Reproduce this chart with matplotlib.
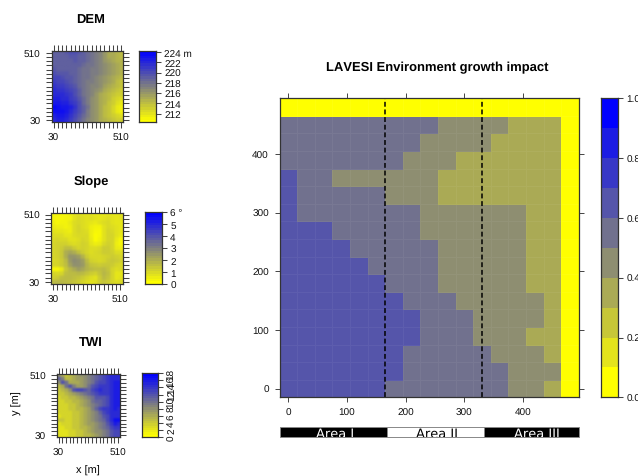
import numpy as np
import matplotlib
matplotlib.use("Agg")
import matplotlib.pyplot as plt
from matplotlib.colors import LinearSegmentedColormap

plt.rcParams['font.family'] = ['Liberation Sans', 'DejaVu Sans']
plt.rcParams['text.hinting'] = 'none'
plt.rcParams['text.hinting_factor'] = 1
W, H = 638, 477

main_classes = [
 [0]*17,
 [5,5,5,5,5,5,5,5,5,4,4,4,4,3,3,3,0],
 [5,5,5,5,5,5,5,5,4,4,4,4,3,3,3,3,0],
 [5,5,5,5,5,5,5,4,4,4,3,3,3,3,3,3,0],
 [6,5,5,4,4,4,4,4,4,3,3,3,3,3,3,3,0],
 [6,5,5,5,5,5,4,4,4,3,3,3,3,3,3,3,0],
 [6,5,5,5,5,5,5,5,4,4,4,4,4,4,3,3,0],
 [6,6,6,5,5,5,5,5,4,4,4,4,4,4,3,3,0],
 [6,6,6,6,5,5,5,5,5,4,4,4,4,4,3,3,0],
 [6,6,6,6,6,5,5,5,5,4,4,4,4,4,3,3,0],
 [6,6,6,6,6,6,5,5,5,4,4,4,4,4,3,3,0],
 [6,6,6,6,6,6,6,5,5,5,4,4,4,4,4,3,0],
 [6,6,6,6,6,6,6,6,5,5,5,4,4,4,4,3,0],
 [6,6,6,6,6,6,6,6,5,5,5,4,4,4,3,3,0],
 [6,6,6,6,6,6,6,5,5,5,5,5,4,4,4,3,0],
 [6,6,6,6,6,6,6,5,5,5,5,5,5,4,4,4,0],
 [6,6,6,6,6,6,5,5,5,5,5,5,5,4,4,3,0],
]

dem = [
 [219,219,219,219.5,220,220,219.5,219,218.5,218,217.5,217,216,215,215,214.5,214],
 [219,219,219,219,219.5,219.5,219,219,218.5,218,217.5,217,216,215,215,214.5,214],
 [219,219,219,219,219,219.5,219,219,218.5,218,217.5,217,216,215.5,215,214.5,214.5],
 [219,219,219,219,219,219,219,218.5,218,218,217.5,217,216.5,216,215.5,215,214.5],
 [219.5,219,219,219,219,219,218.5,218,218,217.5,217.5,217,216.5,216,215.5,215,214.5],
 [220,219.5,219.5,219.5,219,219,218.5,218,218,217.5,217.5,217,216.5,216,215.5,215,214.5],
 [220.5,220.5,220,219.5,219.5,219,218.5,218,218,217.5,217,216.5,216,215.5,215,214.5,214],
 [221,220.5,220.5,220,219.5,219,218.5,218,217.5,217.5,217,216.5,216,215.5,215,214,213.5],
 [221.5,221,221,220.5,220,219.5,218.5,218,217.5,217,217,216.5,215.5,215,214.5,214,213.5],
 [222,221.5,221.5,221,220.5,220,219,218,217.5,217,216.5,216,215,214.5,214,213.5,213],
 [222,222,222,221.5,221,220,219,218,217.5,217,216,215,214.5,214,213.5,213,213],
 [222.5,222.5,222,222,221,220.5,219.5,218.5,217.5,216.5,216,215,214.5,214,213,212.5,212],
 [223,223,222.5,222.5,221.5,221,220,218.5,217.5,216.5,216,215,214.5,213.5,213,212,211.5],
 [224,223.5,223,223,222.5,221.5,220,219,218,216.5,216,215,214,213.5,212.5,211.5,211],
 [223.5,223.5,223.5,223,222,221,220,219,217.5,216.5,216,215,214,213.5,212.5,211.5,211],
 [222.5,223,223,222.5,221.5,220.5,219.5,218.5,217.5,216.5,216,215,214,213.5,213,212.5,212],
 [222,222.5,222.5,222,221,220,219,218,217,216.5,216,215,214.5,214,213.5,213,213],
]

slope = [
 [.3,.3,.2,.2,.4,.7,.8,.7,.7,.7,.6,.6,.6,.7,.6,.6,.7],
 [.3,.2,.2,.3,.3,.7,.9,.8,.7,.8,.7,.6,.7,.8,.7,.6,.7],
 [.4,.2,.3,.3,.5,.8,.9,.8,.7,.6,.5,.7,.8,.9,.7,.6,.6],
 [.5,.4,.4,.3,.4,.8,1.,.8,.7,.4,.3,.3,.7,.9,.8,.7,.6],
 [.7,.6,.6,.5,.4,.8,1.,.9,.8,.4,.2,.2,.7,1.,.9,.7,.6],
 [.8,.8,.8,.6,.6,.8,.9,.9,.9,.4,.1,.2,.7,1.,1.,.7,.5],
 [.9,1.,.9,.9,.7,.7,.8,1.,.9,.5,.1,.3,.7,1.,1.,.5,.2],
 [1.,1.1,1.1,1.1,.9,.8,.9,1.1,1.,.6,.4,.5,.9,1.1,1.,.4,.2],
 [1.,1.1,1.2,1.5,1.5,1.2,1.,1.1,1.,.8,.8,.9,1.2,1.2,1.,.5,.4],
 [1.,1.1,1.3,1.9,2.1,1.9,1.5,1.2,1.,.8,.9,1.,1.2,1.2,1.1,.8,.8],
 [1.,1.1,1.3,1.9,2.5,2.5,2.3,1.8,1.2,.9,.9,.9,1.,1.1,1.2,1.1,1.],
 [.9,1.,1.2,1.6,2.4,2.7,2.6,2.3,1.6,1.1,1.,.9,1.,1.2,1.3,1.2,1.1],
 [1.,1.,1.2,1.5,2.2,2.6,2.6,2.4,1.8,1.4,1.3,1.2,1.3,1.3,1.2,1.,.9],
 [.2,.2,.5,1.3,1.7,2.,2.3,2.1,1.8,1.6,1.5,1.5,1.6,1.4,1.,.8,.9],
 [1.,.9,1.,1.5,1.6,1.6,1.7,1.6,1.4,1.2,1.1,1.4,1.7,1.5,1.,.6,.6],
 [1.1,1.2,1.5,1.6,1.6,1.5,1.4,1.2,1.,.8,.7,1.2,1.6,1.4,1.,.6,.7],
 [1.6,1.7,1.7,1.6,1.5,1.4,1.2,1.,.8,.7,.8,1.2,1.4,1.2,1.,.8,.9],
]

twi = [
 [8,6,4,5,6,7,8,8,9,10,11,12,13,14,15,15,15],
 [11,9,5,5,6,7,7,8,9,10,11,12,13,14,15,15,15],
 [8,12,10,6,6,6,7,8,9,10,12,13,13,14,15,16,16],
 [5,6,10,12,9,7,7,8,10,12,13,14,14,14,15,16,16],
 [4,5,6,8,12,13,13,12,11,13,14,15,14,14,15,16,16],
 [4,4,5,6,7,8,9,10,11,12,13,14,14,14,15,16,16],
 [3,4,4,5,5,6,7,8,9,10,12,12,12,13,15,16,16],
 [3,3,4,4,5,5,6,7,8,10,11,11,12,13,15,16,16],
 [3,3,3,4,4,5,6,7,8,9,10,11,12,13,15,16,16],
 [3,3,3,4,4,5,5,6,7,9,11,13,14,14,15,16,15],
 [3,3,3,3,4,4,5,6,7,8,9,11,13,14,15,15,15],
 [2,3,3,3,4,4,5,6,7,8,9,10,12,13,15,15,15],
 [4,4,3,3,4,4,5,6,7,8,9,10,11,13,15,17,17],
 [2,3,3,3,4,4,5,6,7,7,8,9,10,12,14,16,15],
 [2,2,3,3,4,4,5,5,6,7,8,9,10,11,13,14,14],
 [2,2,2,3,3,4,4,5,6,7,8,8,9,10,12,13,13],
 [2,2,2,3,3,4,4,5,5,6,7,8,9,10,12,13,13],
]

main_ticks = [0, 100, 200, 300, 400]
cbar_main_ticks = [0.0, 0.2, 0.4, 0.6, 0.8, 1.0]
dem_ticks = [212, 214, 216, 218, 220, 222, 224]
slope_ticks = [0, 1, 2, 3, 4, 5, 6]
twi_ticks = [0, 2, 4, 6, 8, 10, 12, 14, 16, 18]
area_names = ['Area I', 'Area II', 'Area III']
area_edges = [-15, 168, 333, 495]
area_centers = [80, 254, 424]
area_lines = [165, 330]

cmap = LinearSegmentedColormap.from_list('yb', ['#ffff00', '#0000ff'])
FRAME = '#333333'
TICK = '#444444'
FS = 7

fig = plt.figure(figsize=(W / 100, H / 100), dpi=100)

def box(x0, y0, x1, y1):
    return fig.add_axes([x0 / W, 1 - y1 / H, (x1 - x0) / W, (y1 - y0) / H])

def frame(ax, c=FRAME, lw=0.9):
    for s in ax.spines.values():
        s.set_color(c)
        s.set_linewidth(lw)

def small(bbox, vals, vmin, vmax, title, tx, ty):
    ax = box(*bbox)
    c = np.arange(30, 511, 30)
    ax.imshow(np.array(vals), cmap=cmap, vmin=vmin, vmax=vmax, origin='upper',
              extent=(15, 525, 15, 525), aspect='auto', interpolation='hanning',
              interpolation_stage='rgba')
    ax.set_xlim(15, 525)
    ax.set_ylim(15, 525)
    ax.set_xticks(c, ['30'] + [''] * 15 + ['510'])
    ax.set_yticks(c, ['30'] + [''] * 15 + ['510'])
    ax.tick_params(top=True, right=True, length=4.3, width=0.75, color=TICK,
                   labelsize=FS, pad=3.5, labelcolor='#111111')
    frame(ax)
    fig.text(tx / W, 1 - ty / H, title, ha='center', va='center',
             fontsize=9.4, fontweight='bold')
    return ax

def colorbar(bbox, vmin, vmax, levels, ticks, labels=None, rotate=False):
    ax = box(*bbox)
    edges = np.linspace(vmin, vmax, levels + 1)
    ax.pcolormesh([0, 1], edges, np.arange(levels)[:, None], cmap=cmap,
                  vmin=0, vmax=levels - 1)
    ax.set_xticks([])
    ax.yaxis.tick_right()
    ax.set_ylim(vmin, vmax)
    ax.set_yticks(ticks, labels if labels else [str(t) for t in ticks])
    ax.tick_params(axis='y', length=3.6, width=0.75, color=TICK, labelsize=FS,
                   pad=2.5, labelcolor='#111111')
    if rotate:
        for t in ax.get_yticklabels():
            t.set_rotation(90)
            t.set_va('center')
    frame(ax)
    return ax

# Small panels
small((51.5, 51.7, 123.3, 123.3), dem, 210.3, 224.3, 'DEM', 91, 20)
small((51, 213.5, 122.5, 285), slope, 0, 6, 'Slope', 91, 182)
small((56.7, 374.5, 120, 437.7), twi, 0, 18, 'TWI', 91, 343)
colorbar((139.3, 51.7, 156, 123.3), 210.3, 224.3, 28, dem_ticks,
         [str(t) for t in dem_ticks[:-1]] + ['224 m'])
colorbar((145, 213.3, 161.7, 285), 0, 6, 28, slope_ticks,
         [str(t) for t in slope_ticks[:-1]] + ['6 °'])
colorbar((142.3, 374.3, 158.3, 438), 0, 18, 28, twi_ticks, rotate=True)
fig.text(17 / W, 1 - 403 / H, 'y [m]', rotation=90, ha='center', va='center', fontsize=8)
fig.text(88 / W, 1 - 471 / H, 'x [m]', ha='center', va='center', fontsize=8)

# Main panel
ax = box(279.5, 99.3, 578.7, 398.3)
cx = np.arange(0, 481, 30)
grid = np.array(main_classes)[::-1] / 9
ax.pcolormesh(cx, cx, grid, cmap=cmap, vmin=0, vmax=1, shading='nearest',
              edgecolors=(1, 1, 1, 0.05), linewidth=0.4)
for v in area_lines:
    ax.axvline(v, color='black', lw=1.1, ls=(0, (3.2, 1.8)))
ax.set_xlim(-15, 495)
ax.set_ylim(-15, 495)
ax.set_xticks(main_ticks)
ax.set_yticks(main_ticks)
ax.tick_params(top=True, right=True, length=3.6, width=0.7, color=TICK,
               labelsize=FS, pad=4, labelcolor='#111111')
frame(ax)
fig.text(437 / W, 1 - 67.5 / H, 'LAVESI Environment growth impact', ha='center',
         va='center', fontsize=9.5, fontweight='bold')

colorbar((601, 99.3, 617.7, 398.3), 0, 1, 10, cbar_main_ticks,
         [f'{t:.1f}' for t in cbar_main_ticks])

# Area strip
bar = box(279.5, 427.7, 578.7, 438.3)
bar.set_xlim(-15, 495)
bar.set_ylim(0, 1)
bar.axis('off')
for i, name in enumerate(area_names):
    fc, tc = ('white', 'black') if i == 1 else ('black', 'white')
    bar.barh(0.5, area_edges[i + 1] - area_edges[i], left=area_edges[i], height=1,
             color=fc, edgecolor='#888888', linewidth=0.7, clip_on=False)
    bar.text(area_centers[i], 0.08, name, color=tc, ha='center', va='baseline',
             fontsize=9, family='DejaVu Sans', clip_on=True)

fig.savefig('out.png', dpi=100)
